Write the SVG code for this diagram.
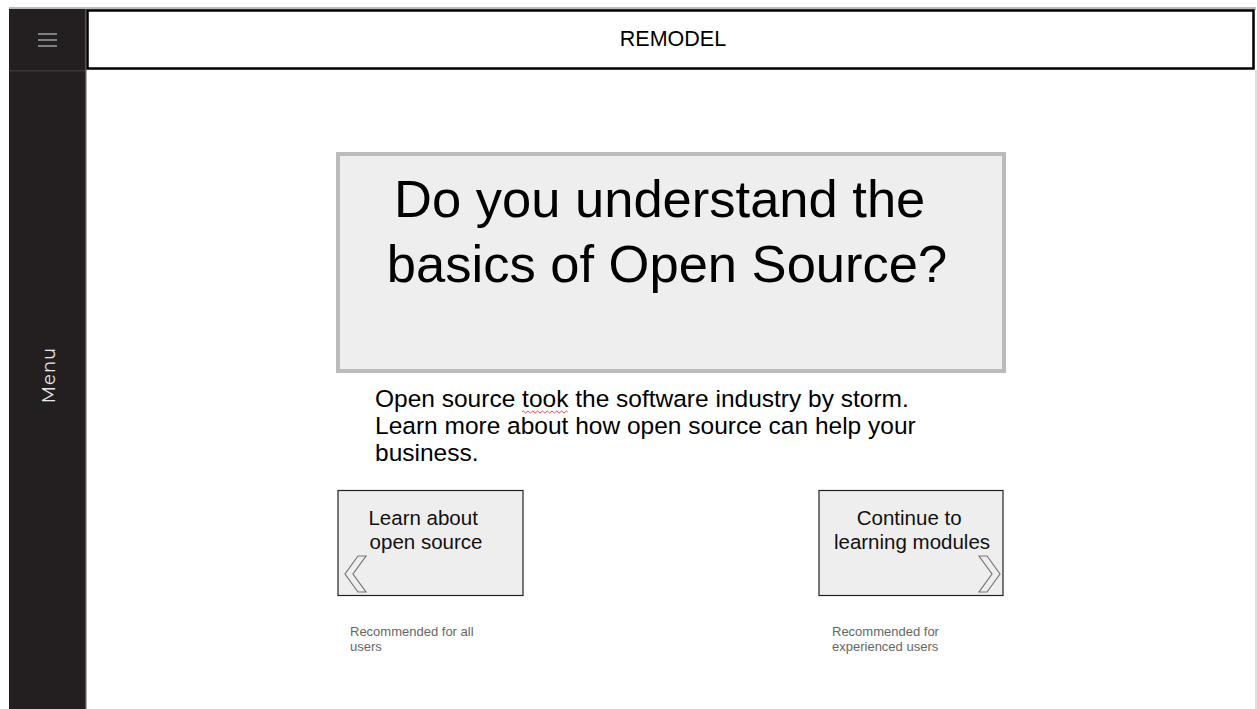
<svg xmlns="http://www.w3.org/2000/svg" width="1257" height="709" viewBox="0 0 1257 709">
  <style>
    .sans { font-family: "Liberation Sans", Arial, sans-serif; }
    .btn { fill: #eeeeee; stroke: #222222; stroke-width: 1.2; }
    .btnText { font-size: 20.5px; fill: #111111; text-anchor: middle; }
    .note { font-size: 13px; fill: #666666; }
    .chev { fill: none; stroke: #777777; stroke-width: 1.2; stroke-linejoin: miter; }
  </style>

  <rect x="0" y="0" width="1257" height="709" fill="#ffffff"/>

  <!-- top rule -->
  <rect x="9" y="7" width="1247" height="3" fill="#bbbbbb"/>

  <!-- sidebar -->
  <g id="sidebar">
    <rect x="9" y="9" width="77" height="700" fill="#231f20"/>
    <rect x="9" y="70" width="77" height="1.5" fill="#3a3637"/>
    <rect x="85" y="9" width="1.5" height="700" fill="#555555"/>
    <g id="hamburger" stroke="#9a9a9a" stroke-width="1.6">
      <line x1="38" y1="34" x2="57" y2="34"/>
      <line x1="38" y1="40" x2="57" y2="40"/>
      <line x1="38" y1="46" x2="57" y2="46"/>
    </g>
    <text x="55" y="375" transform="rotate(-90 55 375)" text-anchor="middle" font-family="Montserrat, 'Open Sans', 'DejaVu Sans', sans-serif" font-size="18" fill="#e8e8e8" letter-spacing="1">Menu</text>
  </g>

  <!-- header bar -->
  <g id="header">
    <rect x="87.5" y="10.5" width="1166" height="58" fill="#ffffff" stroke="#000000" stroke-width="2.5"/>
    <text x="673" y="46" class="sans" font-size="21.5" text-anchor="middle" fill="#000000">REMODEL</text>
  </g>
  <rect x="1255" y="70" width="2" height="639" fill="#e0e0e0"/>

  <!-- headline panel -->
  <g id="headline">
    <rect x="338" y="154" width="666" height="217" fill="#eeeeee" stroke="#bbbbbb" stroke-width="4"/>
    <text class="sans" font-size="52.5" text-anchor="middle" fill="#000000">
      <tspan x="667" y="217">Do you understand the</tspan>
      <tspan x="667" y="282">basics of Open Source?</tspan>
    </text>
  </g>

  <!-- intro paragraph -->
  <g id="intro">
    <text class="sans" font-size="24.5" fill="#000000">
      <tspan x="375" y="407">Open source took the software industry by storm.</tspan>
      <tspan x="375" y="434">Learn more about how open source can help your</tspan>
      <tspan x="375" y="461">business.</tspan>
    </text>
    <path d="M522 412 q1.2 -2 2.4 0 t2.4 0 t2.4 0 t2.4 0 t2.4 0 t2.4 0 t2.4 0 t2.4 0 t2.4 0 t2.4 0 t2.4 0 t2.4 0 t2.4 0 t2.4 0 t2.4 0 t2.4 0 t2.4 0 t2.4 0 t2.4 0" fill="none" stroke="#e03030" stroke-width="0.9"/>
  </g>

  <!-- left button -->
  <g id="learn-button">
    <rect class="btn" x="338" y="490.5" width="185" height="105"/>
    <text class="sans btnText">
      <tspan x="426" y="525">Learn about</tspan>
      <tspan x="426" y="549">open source</tspan>
    </text>
    <polygon class="chev" points="366,556 358,556 345,574 358,592 366,592 353,574"/>
  </g>
  <text class="sans note">
    <tspan x="350" y="636">Recommended for all</tspan>
    <tspan x="350" y="651">users</tspan>
  </text>

  <!-- right button -->
  <g id="continue-button">
    <rect class="btn" x="819" y="490.5" width="184" height="105"/>
    <text class="sans btnText">
      <tspan x="912" y="525">Continue to</tspan>
      <tspan x="912" y="549">learning modules</tspan>
    </text>
    <polygon class="chev" points="979,556 987,556 1000,574 987,592 979,592 992,574"/>
  </g>
  <text class="sans note">
    <tspan x="832" y="636">Recommended for</tspan>
    <tspan x="832" y="651">experienced users</tspan>
  </text>
</svg>
